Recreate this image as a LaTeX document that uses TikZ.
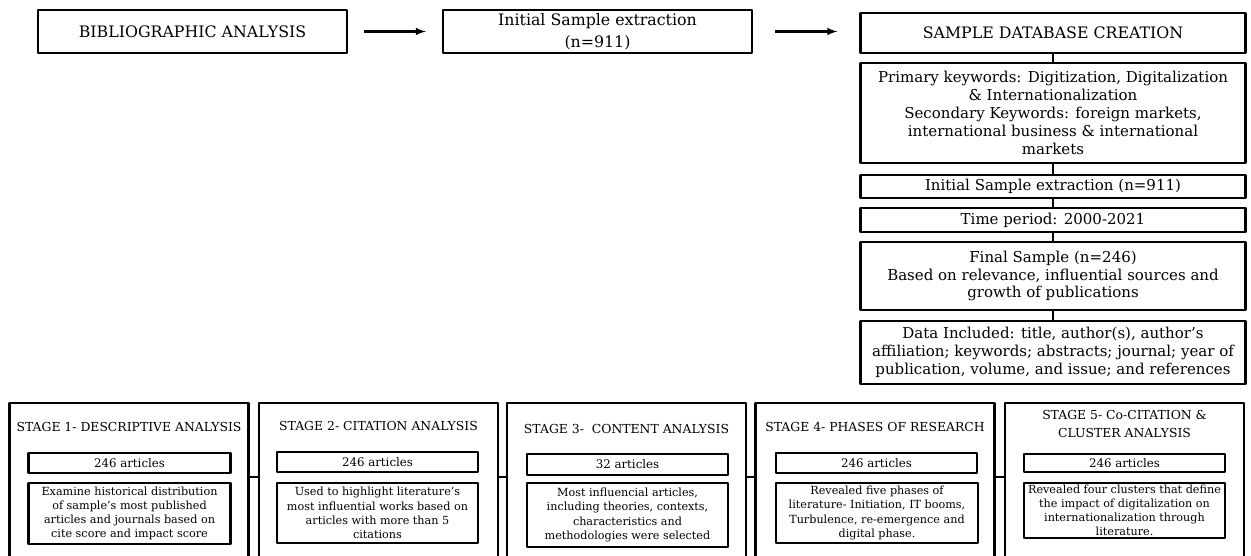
\documentclass[tikz,border=0pt]{standalone}
\usepackage{fontspec}
\setmainfont{DejaVu Serif}
\usepackage{tikz}
\usetikzlibrary{arrows}

\begin{document}
\begin{tikzpicture}[>=latex,line join=bevel,
  box/.style={draw,line width=2.4bp,align=center,inner sep=1bp},
  toptxt/.style={font=\fontsize{15.8bp}{21.5bp}\selectfont},
  sidetxt/.style={font=\fontsize{15bp}{17.8bp}\selectfont},
  stagetxt/.style={font=\fontsize{12.4bp}{18bp}\selectfont,align=center},
  counttxt/.style={font=\fontsize{11.8bp}{14bp}\selectfont},
  smalltxt/.style={font=\fontsize{11.2bp}{14.2bp}\selectfont},
  frame/.style={minimum width=237bp,minimum height=152bp,inner sep=0pt},
  link/.style={line width=2bp}]
  \pgfsetlinewidth{2bp}
  \useasboundingbox (0bp,0bp) rectangle (1251bp,556bp);
%%
  % Node: bibliographic
  \node (biblio) [box,toptxt,minimum width=309bp,minimum height=43bp] at (192.5bp,524.5bp) {BIBLIOGRAPHIC ANALYSIS};
  % Node: initial
  \node (initial) [box,toptxt,minimum width=309bp,minimum height=43bp] at (597.5bp,524.5bp) {Initial Sample extraction\\(n=911)};
  % Node: database
  \node (database) [box,toptxt,minimum width=385bp,minimum height=40bp] at (1053bp,523bp) {SAMPLE DATABASE CREATION};
  \node (keywords) [box,sidetxt,minimum width=385bp,minimum height=100bp] at (1053bp,443bp) {Primary keywords: Digitization, Digitalization\\\& Internationalization\\Secondary Keywords: foreign markets,\\international business \& international\\markets};
  \node (extract) [box,sidetxt,minimum width=385bp,minimum height=23bp] at (1053bp,369.5bp) {Initial Sample extraction (n=911)};
  \node (period) [box,sidetxt,minimum width=385bp,minimum height=24bp] at (1053bp,336bp) {Time period: 2000-2021};
  \node (final) [box,sidetxt,minimum width=385bp,minimum height=68bp] at (1053bp,280bp) {Final Sample (n=246)\\Based on relevance, influential sources and\\growth of publications};
  \node (included) [box,sidetxt,minimum width=385bp,minimum height=63bp] at (1053bp,203.5bp) {Data Included: title, author(s), author's\\affiliation; keywords; abstracts; journal; year of\\publication, volume, and issue; and references};
  % Edge: biblio -> initial
  \draw [->,line width=2.4bp,shorten <=16bp,shorten >=16bp] (biblio) -- (initial);
  % Edge: initial -> database
  \draw [->,line width=2.4bp,shorten <=22bp,shorten >=22bp] (initial.east) -- (initial.east -| database.west);
  % Edge: database -> keywords -> ... -> included
  \draw [link] (database) -- (keywords);
  \draw [link] (keywords) -- (extract);
  \draw [link] (extract) -- (period);
  \draw [link] (period) -- (final);
  \draw [link] (final) -- (included);
%%
  % Node: stage 1
  \node (stage1) [frame] at (129bp,76bp) {};
  \draw [line width=2.4bp] (stage1.south west) -- (stage1.north west) -- (stage1.north east) -- (stage1.south east);
  \node (title1) [stagetxt] at (129bp,129bp) {STAGE 1- DESCRIPTIVE ANALYSIS};
  \node (count1) [box,counttxt,minimum width=202bp,minimum height=20bp] at (129.5bp,93bp) {246 articles};
  \node (text1) [box,smalltxt,minimum width=202bp,minimum height=61bp] at (129.5bp,42.5bp) {Examine historical distribution\\of sample's most published\\articles and journals based on\\cite score and impact score};
  % Node: stage 2
  \node (stage2) [frame] at (378.5bp,76bp) {};
  \draw [line width=2.4bp] (stage2.south west) -- (stage2.north west) -- (stage2.north east) -- (stage2.south east);
  \node (title2) [stagetxt] at (378.5bp,130bp) {STAGE 2- CITATION ANALYSIS};
  \node (count2) [box,counttxt,minimum width=201bp,minimum height=20bp] at (377.5bp,94bp) {246 articles};
  \node (text2) [box,smalltxt,minimum width=201bp,minimum height=60bp] at (377.5bp,43bp) {Used to highlight literature's\\most influential works based on\\articles with more than 5\\citations};
  % Node: stage 3
  \node (stage3) [frame] at (626.5bp,76bp) {};
  \draw [line width=2.4bp] (stage3.south west) -- (stage3.north west) -- (stage3.north east) -- (stage3.south east);
  \node (title3) [stagetxt] at (626.5bp,127bp) {STAGE 3-~ CONTENT ANALYSIS};
  \node (count3) [box,counttxt,minimum width=201bp,minimum height=21bp] at (627.5bp,91.5bp) {32 articles};
  \node (text3) [box,smalltxt,minimum width=201bp,minimum height=64bp] at (627.5bp,41bp) {Most influencial articles,\\including theories, contexts,\\characteristics and\\methodologies were selected};
  % Node: stage 4
  \node (stage4) [frame] at (875bp,76bp) {};
  \draw [line width=2.4bp] (stage4.south west) -- (stage4.north west) -- (stage4.north east) -- (stage4.south east);
  \node (title4) [stagetxt] at (875bp,129bp) {STAGE 4- PHASES OF RESEARCH};
  \node (count4) [box,counttxt,minimum width=201bp,minimum height=20bp] at (876.5bp,93bp) {246 articles};
  \node (text4) [box,smalltxt,minimum width=202bp,minimum height=60bp] at (877bp,43bp) {Revealed five phases of\\literature- Initiation, IT booms,\\Turbulence, re-emergence and\\digital phase.};
  % Node: stage 5
  \node (stage5) [frame] at (1124.5bp,76bp) {};
  \draw [line width=2.4bp] (stage5.south west) -- (stage5.north west) -- (stage5.north east) -- (stage5.south east);
  \node (title5) [stagetxt] at (1124.5bp,132bp) {STAGE 5- Co-CITATION \&\\CLUSTER ANALYSIS};
  \node (count5) [box,counttxt,minimum width=201bp,minimum height=18bp] at (1124.5bp,93bp) {246 articles};
  \node (text5) [box,smalltxt,minimum width=201bp,minimum height=55bp] at (1124.5bp,45.5bp) {Revealed four clusters that define\\the impact of digitalization on\\internationalization through\\literature.};
  % Edge: stage1 -> stage2 -> ... -> stage5
  \draw [link] ([yshift=3bp]stage1.east) -- ([yshift=3bp]stage2.west);
  \draw [link] ([yshift=3bp]stage2.east) -- ([yshift=3bp]stage3.west);
  \draw [link] ([yshift=3bp]stage3.east) -- ([yshift=3bp]stage4.west);
  \draw [link] ([yshift=3bp]stage4.east) -- ([yshift=3bp]stage5.west);
%
\end{tikzpicture}
\end{document}
